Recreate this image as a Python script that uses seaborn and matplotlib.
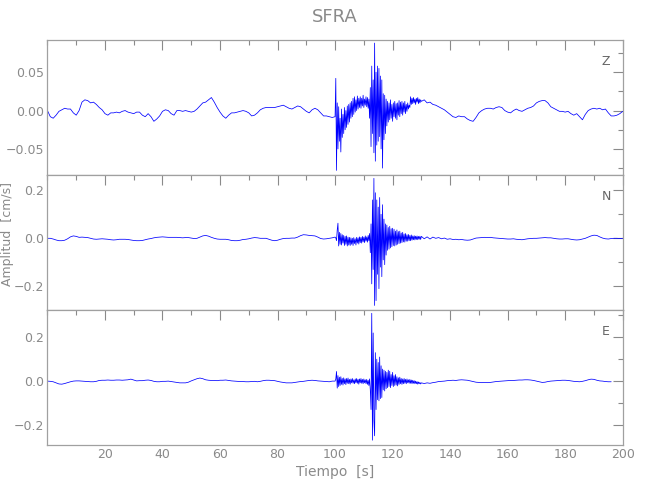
import numpy as np
import pandas as pd
import matplotlib
matplotlib.use("Agg")
import matplotlib.pyplot as plt
from matplotlib.ticker import MultipleLocator, FixedLocator
import seaborn as sns

# sampling: 1 s before the event, 0.25 s through P/S arrivals, 1 s in the coda
t_pre = np.arange(0, 100, 1.0)
t_burst = np.arange(100, 130, 0.25)
t_post_zn = np.arange(130, 201, 1.0)
t_post_e = np.arange(130, 197, 1.0)

z_pre = [0.000, -0.008, -0.010, -0.006, -0.001, 0.001, 0.003, 0.002, 0.002, -0.003,
         -0.006, 0.000, 0.011, 0.014, 0.013, 0.010, 0.011, 0.008, 0.004, 0.001,
         -0.004, -0.006, -0.003, -0.003, -0.002, -0.003, -0.001, 0.000, -0.002, -0.003,
         -0.004, -0.002, -0.002, -0.006, -0.008, -0.004, -0.008, -0.014, -0.011, -0.007,
         -0.001, 0.001, 0.000, -0.004, -0.006, 0.000, 0.000, -0.001, 0.000, -0.001,
         -0.002, -0.001, 0.002, 0.006, 0.010, 0.011, 0.014, 0.017, 0.011, 0.004,
         -0.002, -0.007, -0.010, -0.006, -0.003, -0.003, -0.002, -0.001, 0.000, -0.001,
         -0.003, -0.007, -0.006, -0.003, 0.001, 0.003, 0.004, 0.004, 0.004, 0.004,
         0.005, 0.006, 0.007, 0.005, 0.003, 0.002, 0.004, 0.006, 0.005, 0.002,
         -0.001, -0.003, 0.001, 0.003, 0.001, -0.003, -0.007, -0.007, -0.008, -0.009]
z_burst = [-0.008, 0.042, -0.078, 0.010, -0.050, 0.005, -0.040, -0.010, -0.054, 0.002, -0.035, -0.005,
           -0.030, 0.004, -0.025, 0.000, -0.022, 0.006, -0.018, 0.008, -0.015, 0.010, -0.010, 0.012,
           -0.008, 0.016, -0.005, 0.018, -0.002, 0.014, 0.000, 0.019, 0.002, 0.016, 0.004, 0.018,
           0.003, 0.016, 0.006, 0.020, 0.004, 0.015, 0.007, 0.018, 0.005, 0.017, 0.003, 0.015,
           -0.010, 0.030, -0.047, 0.058, -0.030, 0.040, -0.055, 0.088, -0.066, 0.050, -0.045, 0.058,
           -0.040, 0.055, -0.034, 0.045, -0.050, 0.040, -0.075, 0.022, -0.038, 0.020, -0.030, 0.015,
           -0.020, 0.012, -0.015, 0.010, -0.012, 0.014, -0.010, 0.008, -0.014, 0.010, -0.008, 0.012,
           -0.010, 0.009, -0.012, 0.010, -0.006, 0.013, -0.008, 0.011, -0.004, 0.012, -0.006, 0.010,
           -0.002, 0.012, -0.004, 0.008, -0.001, 0.010, 0.002, 0.007, 0.004, 0.018, 0.008, 0.016,
           0.009, 0.017, 0.010, 0.015, 0.008, 0.016, 0.011, 0.017, 0.009, 0.015, 0.010, 0.014]
z_post = [0.012, 0.014, 0.010, 0.011, 0.008, 0.007, 0.005, 0.003, 0.001, -0.002,
          -0.005, -0.008, -0.009, -0.007, -0.008, -0.008, -0.011, -0.013, -0.014, -0.009,
          -0.003, 0.000, 0.002, 0.003, 0.003, 0.002, 0.004, 0.005, 0.004, 0.000,
          -0.002, -0.003, 0.000, 0.002, 0.000, -0.001, 0.001, 0.003, 0.004, 0.006,
          0.010, 0.012, 0.013, 0.013, 0.010, 0.005, 0.003, 0.001, -0.001, -0.001,
          -0.002, -0.001, -0.004, -0.006, -0.004, -0.008, -0.012, -0.005, 0.000, 0.002,
          0.003, 0.002, 0.003, 0.001, 0.002, -0.003, -0.007, -0.007, -0.006, -0.004,
          -0.001]

n_pre = [0.000, 0.000, -0.003, -0.007, -0.010, -0.010, -0.008, -0.002, 0.006, 0.010,
         0.008, 0.004, 0.005, 0.004, 0.003, 0.000, -0.003, -0.004, -0.003, -0.002,
         -0.003, -0.004, -0.006, -0.007, -0.006, -0.004, -0.004, -0.004, -0.005, -0.007,
         -0.009, -0.010, -0.010, -0.009, -0.006, -0.003, -0.001, 0.002, 0.004, 0.005,
         0.006, 0.005, 0.004, 0.004, 0.004, 0.004, 0.003, 0.002, 0.003, 0.003,
         0.001, -0.001, 0.000, 0.005, 0.010, 0.012, 0.009, 0.004, 0.000, -0.003,
         -0.004, -0.004, -0.004, -0.006, -0.009, -0.010, -0.010, -0.008, -0.005, -0.004,
         -0.002, 0.001, 0.003, 0.002, 0.000, 0.000, 0.000, -0.004, -0.008, -0.010,
         -0.008, -0.004, -0.001, 0.000, 0.000, 0.001, 0.001, 0.005, 0.011, 0.015,
         0.014, 0.012, 0.011, 0.010, 0.005, -0.001, -0.003, -0.002, 0.000, 0.002]
n_burst = [0.005, 0.002, -0.010, 0.035, 0.063, -0.032, 0.025, -0.025, 0.020, -0.028, 0.015, -0.020,
           0.012, -0.030, 0.008, -0.025, 0.010, -0.032, 0.005, -0.028, 0.004, -0.030, 0.002, -0.025,
           0.000, -0.030, 0.003, -0.022, -0.002, -0.028, 0.004, -0.020, 0.002, -0.024, 0.006, -0.018,
           0.004, -0.020, 0.008, -0.015, 0.005, -0.018, 0.010, -0.012, 0.006, -0.016, 0.012, -0.010,
           0.020, -0.060, 0.060, -0.190, 0.160, -0.130, 0.250, -0.280, 0.190, -0.260, 0.160, -0.150,
           0.130, -0.210, 0.170, -0.120, 0.100, -0.160, 0.140, -0.090, 0.080, -0.110, 0.060, -0.070,
           0.055, -0.050, 0.045, -0.045, 0.050, -0.040, 0.040, -0.035, 0.042, -0.030, 0.038, -0.032,
           0.030, -0.028, 0.035, -0.025, 0.028, -0.022, 0.030, -0.020, 0.022, -0.018, 0.025, -0.015,
           0.018, -0.016, 0.020, -0.012, 0.015, -0.012, 0.016, -0.010, 0.012, -0.010, 0.014, -0.008,
           0.010, -0.006, 0.011, -0.007, 0.009, -0.005, 0.010, -0.006, 0.008, -0.004, 0.009, -0.005]
n_post = [0.008, -0.002, 0.006, -0.003, 0.005, 0.000, 0.003, -0.002, 0.001, -0.004,
          -0.002, -0.005, -0.004, -0.006, -0.005, -0.007, -0.008, -0.007, -0.003, 0.001,
          0.002, 0.003, 0.004, 0.003, 0.004, 0.002, 0.001, 0.000, -0.001, -0.002,
          -0.003, -0.003, -0.002, -0.004, -0.005, -0.006, -0.004, -0.002, -0.001, 0.000,
          0.000, 0.001, 0.002, 0.003, 0.002, 0.002, 0.000, -0.002, -0.003, -0.003,
          -0.002, -0.002, -0.004, -0.006, -0.007, -0.006, -0.003, 0.000, 0.005, 0.010,
          0.013, 0.012, 0.006, 0.001, -0.002, -0.003, -0.001, 0.000, 0.000, -0.001,
          0.000]

e_pre = [0.000, -0.001, -0.003, -0.008, -0.013, -0.014, -0.011, -0.007, -0.003, 0.000,
         0.001, 0.001, 0.000, -0.001, -0.002, -0.003, -0.003, -0.001, 0.003, 0.004,
         0.004, 0.005, 0.004, 0.004, 0.005, 0.005, 0.004, 0.005, 0.006, 0.009,
         0.005, 0.001, 0.002, 0.002, 0.004, 0.005, 0.003, -0.001, -0.003, -0.003,
         -0.001, -0.001, 0.000, -0.002, -0.004, -0.006, -0.008, -0.008, -0.008, -0.005,
         0.001, 0.006, 0.011, 0.014, 0.011, 0.006, 0.004, 0.003, 0.003, 0.002,
         0.004, 0.004, 0.005, 0.003, 0.001, 0.000, -0.001, -0.002, -0.002, -0.003,
         -0.003, -0.002, -0.001, -0.003, -0.001, 0.002, 0.004, 0.004, 0.003, 0.002,
         -0.001, -0.004, -0.006, -0.008, -0.008, -0.008, -0.006, -0.004, -0.002, -0.001,
         0.001, 0.003, 0.004, 0.003, 0.001, 0.000, -0.001, -0.002, -0.003, 0.000]
e_burst = [0.000, 0.010, 0.044, -0.032, 0.025, -0.025, 0.018, -0.020, 0.020, -0.015, 0.012, -0.018,
           0.015, -0.012, 0.010, -0.016, 0.012, -0.010, 0.014, -0.012, 0.008, -0.014, 0.010, -0.008,
           0.012, -0.010, 0.006, -0.012, 0.010, -0.008, 0.012, -0.010, 0.008, -0.014, 0.010, -0.008,
           0.012, -0.010, 0.008, -0.012, 0.010, -0.008, 0.006, -0.012, 0.008, -0.015, 0.004, -0.020,
           0.010, -0.040, -0.130, 0.310, -0.270, 0.220, -0.180, -0.250, 0.130, -0.130, 0.100, -0.085,
           0.085, -0.090, 0.110, -0.080, 0.070, -0.075, 0.055, -0.040, 0.050, -0.045, 0.045, -0.035,
           0.040, -0.030, 0.050, -0.025, 0.045, -0.030, 0.030, -0.020, 0.040, -0.025, 0.025, -0.020,
           0.030, -0.018, 0.020, -0.022, 0.015, -0.015, 0.018, -0.012, 0.012, -0.015, 0.010, -0.012,
           0.012, -0.010, 0.008, -0.012, 0.010, -0.008, 0.006, -0.010, 0.008, -0.010, 0.005, -0.012,
           0.004, -0.010, 0.002, -0.012, 0.000, -0.012, -0.002, -0.014, -0.004, -0.012, -0.006, -0.013]
e_post = [-0.008, -0.011, -0.008, -0.010, -0.007, -0.005, -0.002, -0.001, 0.000, 0.002,
          0.003, 0.004, 0.003, 0.005, 0.006, 0.005, 0.004, 0.001, -0.002, -0.005,
          -0.006, -0.007, -0.006, -0.007, -0.006, -0.004, -0.002, -0.001, 0.000, 0.001,
          0.002, 0.003, 0.003, 0.004, 0.005, 0.005, 0.006, 0.006, 0.005, 0.003,
          0.000, -0.003, -0.006, -0.005, -0.002, 0.000, 0.001, 0.002, 0.003, 0.004,
          0.004, 0.003, 0.001, -0.001, -0.002, -0.003, -0.001, 0.002, 0.006, 0.009,
          0.008, 0.004, 0.001, 0.000, -0.002, -0.003, -0.003]

components = ["Z", "N", "E"]
y_limits = [(-0.084, 0.092), (-0.299, 0.264), (-0.292, 0.325)]
y_major = [[-0.05, 0.0, 0.05], [-0.2, 0.0, 0.2], [-0.2, 0.0, 0.2]]
y_labels = [["\u22120.05", "0.00", "0.05"], ["\u22120.2", "0.0", "0.2"], ["\u22120.2", "0.0", "0.2"]]
y_minor = [0.025, 0.1, 0.1]
x_ticks = [20, 40, 60, 80, 100, 120, 140, 160, 180, 200]

traces = {
    "Z": (np.concatenate([t_pre, t_burst, t_post_zn]), np.array(z_pre + z_burst + z_post)),
    "N": (np.concatenate([t_pre, t_burst, t_post_zn]), np.array(n_pre + n_burst + n_post)),
    "E": (np.concatenate([t_pre, t_burst, t_post_e]), np.array(e_pre + e_burst + e_post)),
}

sns.set_style("white")
plt.rcParams["font.family"] = ["DejaVu Sans"]
grey = "#8a8a8a"
plt.rcParams["text.color"] = grey
plt.rcParams["axes.labelcolor"] = grey
plt.rcParams["xtick.color"] = grey
plt.rcParams["ytick.color"] = grey

fig = plt.figure(figsize=(6.5, 5), dpi=100)
bottoms = [0.65, 0.38, 0.11]

for i, comp in enumerate(components):
    ax = fig.add_axes([0.073, bottoms[i], 0.885, 0.27])
    t, v = traces[comp]
    df = pd.DataFrame({"t": t, "amp": v})
    sns.lineplot(data=df, x="t", y="amp", ax=ax, color="#0000ff",
                 linewidth=0.55, estimator=None, sort=False)
    ax.set_xlim(0, 200)
    ax.set_ylim(*y_limits[i])
    ax.xaxis.set_major_locator(FixedLocator(x_ticks))
    ax.xaxis.set_minor_locator(MultipleLocator(10))
    ax.yaxis.set_major_locator(FixedLocator(y_major[i]))
    ax.set_yticklabels(y_labels[i])
    ax.yaxis.set_minor_locator(MultipleLocator(y_minor[i]))
    ax.tick_params(which="both", direction="in", top=True, right=True,
                   colors=grey, labelsize=9, width=0.8, pad=2.5)
    ax.tick_params(which="major", length=7)
    ax.tick_params(which="minor", length=3.5)
    for s in ax.spines.values():
        s.set_color("#a0a0a0")
        s.set_linewidth(0.9)
    ax.set_xlabel("")
    ax.set_ylabel("")
    if i < 2:
        ax.tick_params(labelbottom=False)
    ax.text(0.971, 0.844, comp, transform=ax.transAxes, ha="center", va="center",
            fontsize=9, color="#666666")

fig.text(0.515, 0.966, "SFRA", ha="center", va="center", fontsize=13, color=grey)
fig.text(0.515, 0.056, "Tiempo  [s]", ha="center", va="center", fontsize=10, color=grey)
fig.text(0.011, 0.532, "Amplitud  [cm/s]", ha="center", va="center", rotation=90,
         fontsize=9, color=grey)

fig.savefig("out.png", dpi=100)
